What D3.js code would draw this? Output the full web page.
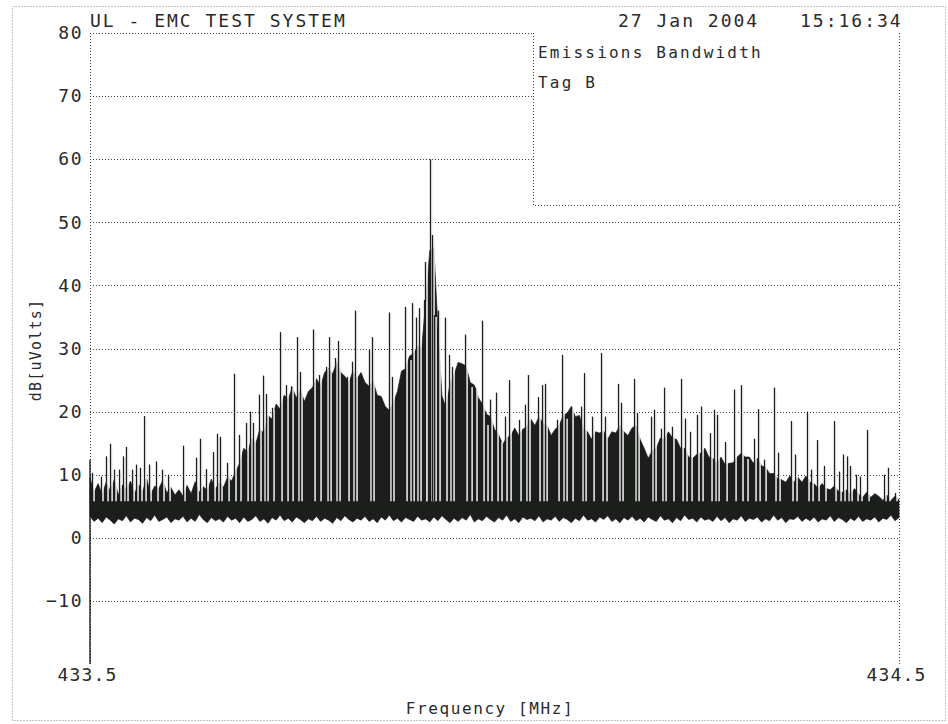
<!DOCTYPE html>
<html>
<head>
<meta charset="utf-8">
<script src="https://cdn.jsdelivr.net/npm/d3@7"></script>
<style>
  html, body { margin: 0; padding: 0; background: #fff; }
  svg { display: block; }
  text { font-family: "DejaVu Sans Mono", monospace; fill: #2a2a2a; }
</style>
</head>
<body>
<svg id="chart" width="948" height="724"></svg>
<script>
// Sweep grid: 201 samples, 433.5 .. 434.5 MHz in 5 kHz steps
const sweepStartMHz = 433.5;
const sweepStepMHz = 0.005;

// Upper edge of the dense noise trace, dB[uV]
const traceHigh = [
  9.5, 7.2, 8.6, 6.9, 8.8, 7.4, 9.2, 6.8, 8.4, 7.6,
  9.0, 7.0, 8.5, 7.3, 9.4, 6.9, 8.2, 7.8, 9.1, 7.1,
  8.0, 6.8, 7.6, 6.6, 8.3, 7.0, 8.9, 7.2, 8.1, 7.5,
  9.3, 7.7, 8.8, 8.0, 9.6, 9.0, 10.5, 11.8, 14.2, 13.6,
  15.8, 15.0, 17.2, 16.6, 19.4, 18.8, 21.2, 20.4, 22.6, 22.0,
  23.8, 22.2, 23.4, 21.6, 23.2, 23.8, 25.2, 24.0, 26.2, 26.8,
  26.0, 27.8, 26.2, 25.6, 24.6, 26.4, 25.2, 26.2, 24.6, 24.0,
  24.8, 22.6, 22.4, 20.8, 20.2, 21.4, 23.2, 26.4, 26.8, 28.8,
  29.2, 30.4, 30.0, 37.5, 45.5, 46.0, 33.5, 22.5, 20.6, 24.4,
  25.8, 27.8, 27.6, 27.2, 24.6, 24.2, 22.2, 21.2, 19.6, 19.2,
  17.2, 16.4, 14.8, 15.8, 16.2, 17.4, 16.2, 17.2, 17.6, 18.8,
  17.8, 19.2, 18.2, 17.8, 16.2, 17.2, 17.8, 19.4, 19.8, 20.8,
  19.2, 19.4, 17.2, 16.8, 15.6, 16.8, 16.6, 16.9, 15.6, 16.8,
  16.6, 17.8, 16.8, 16.2, 17.4, 17.8, 15.6, 14.2, 12.6, 13.8,
  14.2, 15.8, 15.6, 16.8, 15.8, 15.6, 14.2, 14.2, 12.8, 12.6,
  13.2, 13.4, 14.2, 12.8, 12.6, 11.8, 12.8, 11.6, 11.8, 11.9,
  12.8, 13.4, 12.8, 12.8, 11.8, 12.6, 11.4, 11.2, 10.2, 10.2,
  9.4, 9.2, 8.8, 9.8, 8.8, 9.6, 8.8, 9.8, 8.8, 8.6,
  7.8, 8.6, 7.8, 7.6, 8.2, 7.4, 7.2, 7.6, 6.8, 7.8,
  6.9, 6.4, 7.2, 6.4, 7.0, 6.6, 5.9, 6.8, 5.9, 6.6,
  6.0
];

// Lower edge of the noise floor, dB[uV]
const traceLow = [
  3.4, 2.6, 3.1, 2.4, 3.3, 2.8, 2.2, 3.0, 2.7, 3.5,
  2.5, 3.1, 2.9, 2.3, 3.2, 2.7, 3.6, 2.6, 2.9, 3.3,
  2.4, 3.0, 2.8, 3.4, 2.5, 3.1, 2.6, 3.7, 2.9, 2.4,
  3.2, 2.7, 3.0, 2.5, 3.4, 2.8, 3.1, 2.4, 3.3, 2.6,
  2.9, 3.5, 2.6, 3.0, 2.3, 3.2, 2.8, 3.6, 2.7, 3.1,
  2.5, 3.3, 2.9, 2.4, 3.0, 2.7, 3.4, 2.6, 3.1, 2.8,
  2.3, 3.2, 2.7, 3.5, 2.9, 2.5, 3.1, 2.8, 3.4, 2.6,
  3.0, 2.4, 3.3, 2.8, 3.6, 2.7, 3.1, 2.5, 3.2, 2.9,
  2.6, 3.4, 2.8, 3.0, 2.5, 3.3, 2.7, 3.5, 2.9, 2.4,
  3.1, 2.6, 3.2, 2.8, 3.7, 2.5, 3.0, 2.7, 3.4, 2.9,
  2.5, 3.2, 2.8, 3.6, 2.6, 3.0, 2.4, 3.3, 2.9, 3.1,
  2.7, 3.5, 2.5, 3.0, 2.8, 3.4, 2.6, 3.2, 2.9, 2.4,
  3.1, 2.7, 3.6, 2.8, 3.0, 2.5, 3.3, 2.9, 3.5, 2.6,
  3.0, 2.4, 3.2, 2.8, 3.4, 2.7, 3.1, 2.5, 3.3, 2.9,
  2.6, 3.5, 2.8, 3.0, 2.4, 3.2, 2.7, 3.6, 2.9, 3.1,
  2.5, 3.3, 2.8, 3.0, 2.6, 3.4, 2.7, 3.2, 2.4, 3.0,
  2.8, 3.5, 2.6, 3.1, 2.9, 3.3, 2.5, 3.0, 2.7, 3.6,
  2.8, 3.2, 2.4, 3.0, 2.9, 3.4, 2.6, 3.1, 2.7, 3.3,
  2.5, 3.0, 2.8, 3.5, 2.6, 3.2, 2.9, 2.4, 3.1, 2.7,
  3.4, 2.6, 3.0, 2.8, 3.3, 2.5, 3.1, 2.9, 3.6, 2.7,
  3.2
];

// First sweep sample: the trace drops from this level to the bottom of the scale
const sweepStartLevels = [12.4, -20];

// Discrete emission lines: frequency (MHz) and peak level dB[uV]
const spikeFreq = [
  433.5037, 433.5148, 433.5210, 433.5260, 433.5309, 433.5371, 433.5420, 433.5457, 433.5532, 433.5581,
  433.5630, 433.5680, 433.5742, 433.5828, 433.5902, 433.5977, 433.6162, 433.6323, 433.6372, 433.6446,
  433.6533, 433.6582, 433.6619, 433.6706, 433.6792, 433.6854, 433.6941, 433.6990, 433.7027, 433.7101,
  433.7151, 433.7188, 433.7262, 433.7361, 433.7435, 433.7497, 433.7571, 433.7608, 433.7769, 433.7843,
  433.7930, 433.7967, 433.8041, 433.8078, 433.8189, 433.8251, 433.8288, 433.8461, 433.8498, 433.8708,
  433.8745, 433.8906, 433.8956, 433.8993, 433.9042, 433.9079, 433.9141, 433.9153, 433.9215, 433.9240,
  433.9265, 433.9314, 433.9400, 433.9450, 433.9487, 433.9648, 433.9710, 433.9771, 433.9858, 433.9907,
  433.9957, 434.0031, 434.0080, 434.0142, 434.0192, 434.0315, 434.0389, 434.0426, 434.0550, 434.0600,
  434.0637, 434.0785, 434.0847, 434.0884, 434.0958, 434.1082, 434.1119, 434.1218, 434.1329, 434.1378,
  434.1539, 434.1576, 434.1737, 434.1774, 434.1947, 434.1984, 434.2070, 434.2108, 434.2206, 434.2318,
  434.2367, 434.2429, 434.2515, 434.2565, 434.2676, 434.2726, 434.2763, 434.2862, 434.2973, 434.3059,
  434.3121, 434.3220, 434.3270, 434.3344, 434.3467, 434.3517, 434.3677, 434.3727, 434.3875, 434.3925,
  434.3999, 434.4085, 434.4209, 434.4271, 434.4320, 434.4370, 434.4407, 434.4481, 434.4530, 434.4617,
  434.4827, 434.4876, 434.4963
];
const spikePeak = [
  10.3, 9.7, 12.9, 14.9, 10.8, 10.8, 12.9, 14.4, 10.8, 11.6,
  11.1, 19.3, 11.6, 12.1, 10.8, 10.0, 14.6, 12.7, 15.7, 10.9,
  13.6, 16.5, 16.0, 11.9, 26.0, 16.3, 18.2, 20.0, 18.2, 22.7,
  25.7, 22.8, 20.6, 32.6, 24.2, 24.0, 31.8, 26.3, 33.0, 25.8,
  27.1, 31.8, 28.5, 31.2, 25.5, 27.9, 36.0, 29.8, 31.8, 35.7,
  25.5, 36.6, 28.5, 37.2, 34.9, 36.4, 37.7, 43.7, 60.0, 48.0,
  35.3, 36.0, 34.9, 29.0, 27.1, 32.2, 24.2, 23.8, 34.4, 18.2,
  21.9, 23.0, 15.5, 19.2, 25.0, 18.7, 21.1, 25.8, 22.3, 24.2,
  24.4, 18.7, 29.0, 19.2, 20.8, 20.8, 26.1, 19.2, 29.3, 19.2,
  24.4, 21.4, 25.2, 19.8, 19.2, 20.3, 17.3, 23.8, 17.6, 25.2,
  18.9, 16.8, 19.5, 20.8, 16.6, 20.3, 19.5, 15.2, 23.5, 24.2,
  12.8, 15.7, 20.4, 12.4, 23.8, 13.5, 18.5, 13.2, 20.0, 10.8,
  15.5, 11.4, 18.5, 10.5, 13.2, 12.9, 11.4, 10.0, 9.7, 17.1,
  10.0, 11.1, 7.1
];
// Level where each line's white core ends inside the noise band
const spikeCoreBase = 5.8;

// Axis ticks
const yTicks = [80, 70, 60, 50, 40, 30, 20, 10, 0, -10];
const xTicks = [433.5, 434.5];

// Header and annotation texts
const headerLeft = "UL - EMC TEST SYSTEM";
const headerDate = "27 Jan 2004";
const headerTime = "15:16:34";
const noteLines = ["Emissions Bandwidth", "Tag B"];
const yTitle = "dB[uVolts]";
const xTitle = "Frequency [MHz]";

const svg = d3.select("#chart");
const ink = "#1b1e1b";

const x = d3.scaleLinear().domain([433.5, 434.5]).range([90, 899]);
const y = d3.scaleLinear().domain([-20, 80]).range([664, 33]);

const samples = traceHigh.map((h, i) => ({
  f: sweepStartMHz + i * sweepStepMHz,
  hi: h,
  lo: traceLow[i]
}));
const spikes = spikeFreq.map((f, i) => ({ f, p: spikePeak[i] }));

// outer page frame
svg.append("rect")
  .attr("x", 12.5).attr("y", 6.5).attr("width", 933).attr("height", 714)
  .attr("fill", "none").attr("stroke", "#8a8a8a").attr("stroke-width", 1)
  .attr("stroke-dasharray", "1,2");

// horizontal grid
svg.append("g").selectAll("line").data(yTicks).join("line")
  .attr("x1", x(433.5)).attr("x2", x(434.5))
  .attr("y1", d => Math.round(y(d)) + 0.5).attr("y2", d => Math.round(y(d)) + 0.5)
  .attr("stroke", "#3a3a3a").attr("stroke-width", 1).attr("stroke-dasharray", "1,2");

// vertical frame edges
svg.append("g").selectAll("line").data(xTicks).join("line")
  .attr("x1", d => Math.round(x(d)) + 0.5).attr("x2", d => Math.round(x(d)) + 0.5)
  .attr("y1", y(80)).attr("y2", y(-20))
  .attr("stroke", "#3a3a3a").attr("stroke-width", 1).attr("stroke-dasharray", "1,2");

// annotation box (covers the grid)
const boxX0 = 533.5, boxY1 = 205.5;
svg.append("rect")
  .attr("x", boxX0).attr("y", y(80)).attr("width", x(434.5) - boxX0).attr("height", boxY1 - y(80))
  .attr("fill", "#fff").attr("stroke", "none");
svg.append("path")
  .attr("d", `M${boxX0},${y(80)}V${boxY1}H${Math.round(x(434.5)) + 0.5}`)
  .attr("fill", "none").attr("stroke", "#3a3a3a").attr("stroke-dasharray", "1,2");
svg.append("g").selectAll("text").data(noteLines).join("text")
  .attr("x", 538).attr("y", (d, i) => 58 + i * 30)
  .attr("font-size", 16).attr("letter-spacing", 2.2)
  .text(d => d);

// noise band of the sweep
svg.append("path")
  .datum(samples)
  .attr("d", d3.area().x(d => x(d.f)).y0(d => y(d.lo)).y1(d => y(d.hi)))
  .attr("fill", ink).attr("stroke", ink).attr("stroke-width", 0.7);

// first sample drop
svg.append("line")
  .attr("x1", x(sweepStartMHz)).attr("x2", x(sweepStartMHz))
  .attr("y1", y(sweepStartLevels[0])).attr("y2", y(sweepStartLevels[1]))
  .attr("stroke", ink).attr("stroke-width", 1.4);

// emission lines: dark trace stroke with the pen's white return path beside it
const spikeG = svg.append("g");
spikeG.selectAll("line.core").data(spikes).join("line")
  .attr("class", "core")
  .attr("x1", d => x(d.f) + 1.0).attr("x2", d => x(d.f) + 1.0)
  .attr("y1", y(spikeCoreBase)).attr("y2", d => y(d.p) + 2)
  .attr("stroke", "#f4f4f4").attr("stroke-width", 1.6);
spikeG.selectAll("line.pen").data(spikes).join("line")
  .attr("class", "pen")
  .attr("x1", d => x(d.f) - 0.5).attr("x2", d => x(d.f) - 0.5)
  .attr("y1", y(spikeCoreBase)).attr("y2", d => y(d.p))
  .attr("stroke", ink).attr("stroke-width", 1.3);

// y axis labels
const yAxis = d3.axisLeft(y).tickValues(yTicks).tickSize(0).tickPadding(0).tickFormat(d3.format("d"));
const yg = svg.append("g").attr("transform", "translate(83,0)").call(yAxis);
yg.select(".domain").remove();
yg.selectAll("text").attr("font-size", 18).attr("letter-spacing", 1.5)
  .attr("font-family", "DejaVu Sans Mono, monospace").attr("fill", "#2a2a2a");

// x axis labels
const xAxis = d3.axisBottom(x).tickValues(xTicks).tickSize(0).tickPadding(0).tickFormat(d3.format(".1f"));
const xg = svg.append("g").attr("transform", "translate(-3,668)").call(xAxis);
xg.select(".domain").remove();
xg.selectAll("text").attr("font-size", 18).attr("letter-spacing", 1.2)
  .attr("font-family", "DejaVu Sans Mono, monospace").attr("fill", "#2a2a2a");

// titles
svg.append("text").attr("x", 90).attr("y", 27).attr("font-size", 18).attr("letter-spacing", 2)
  .text(headerLeft);
svg.append("text").attr("x", 618).attr("y", 27).attr("font-size", 18).attr("letter-spacing", 2)
  .text(headerDate);
svg.append("text").attr("x", 800).attr("y", 27).attr("font-size", 18).attr("letter-spacing", 2)
  .text(headerTime);
svg.append("text").attr("x", 490).attr("y", 714).attr("text-anchor", "middle")
  .attr("font-size", 16).attr("letter-spacing", 1.6).text(xTitle);
svg.append("text").attr("transform", "translate(41,350) rotate(-90)").attr("text-anchor", "middle")
  .attr("font-size", 15).attr("letter-spacing", 1.2).text(yTitle);
</script>
</body>
</html>
